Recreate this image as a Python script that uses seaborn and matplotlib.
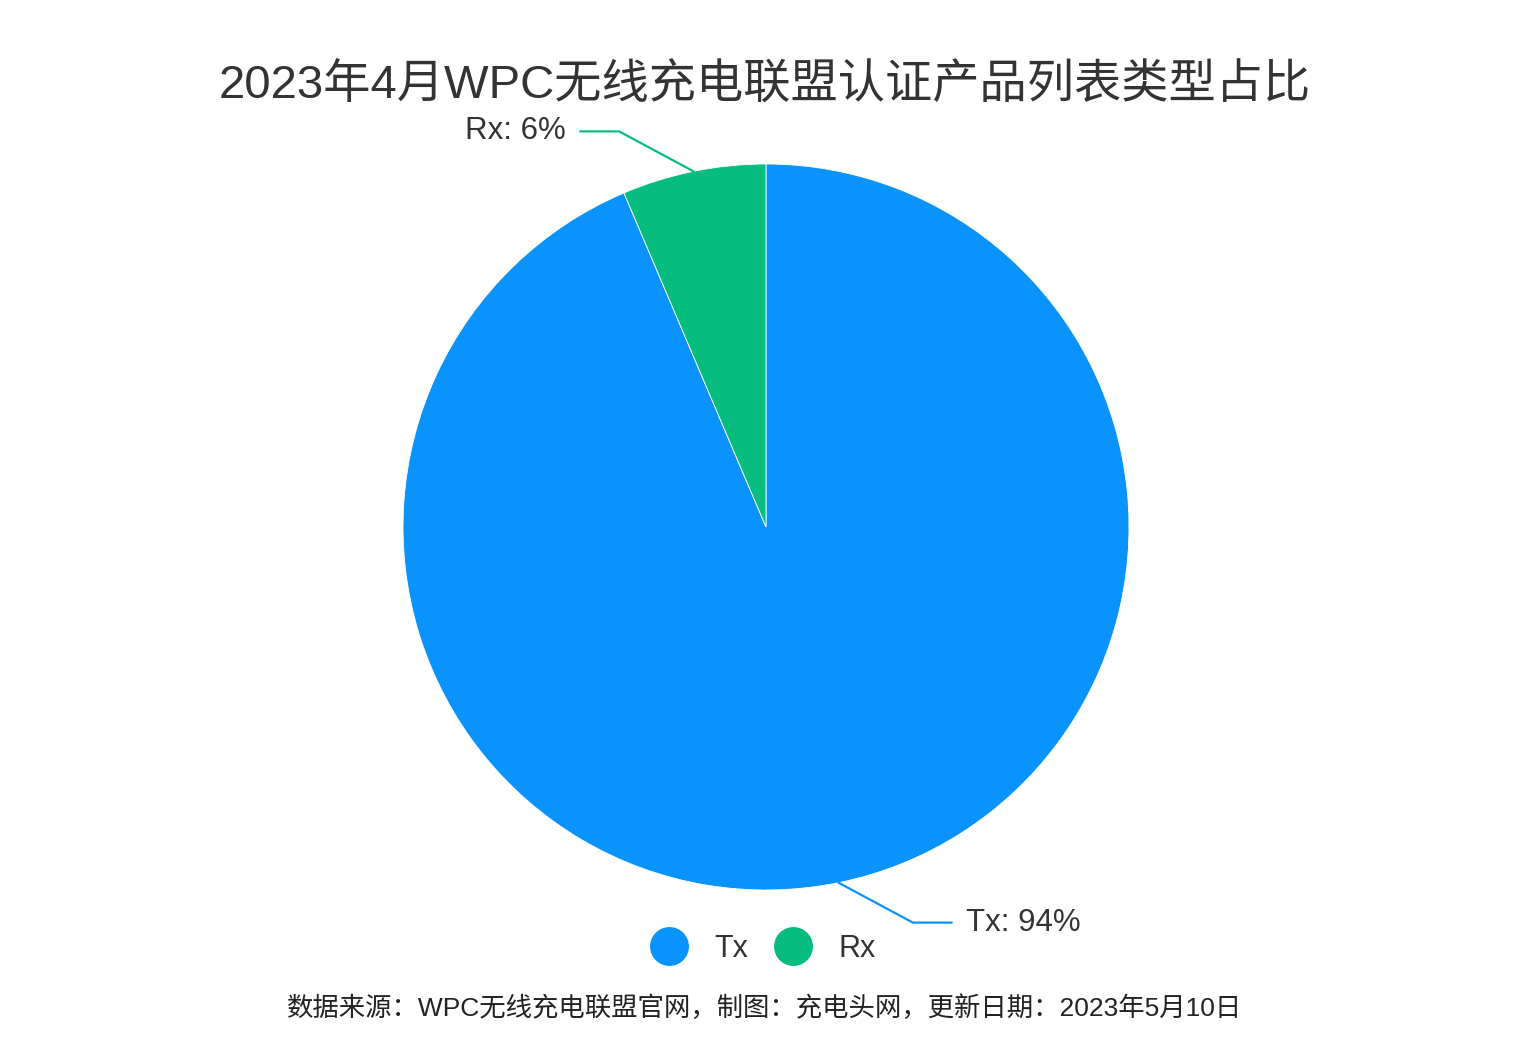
import numpy as np
import seaborn as sns
import matplotlib.pyplot as plt
from matplotlib.lines import Line2D

# data
categories = ["Tx", "Rx"]
shares = [93.6, 6.4]
label_pcts = ["94%", "6%"]
colors = ["#0a93fc", "#06bd7f"]

TITLE = "2023年4月WPC无线充电联盟认证产品列表类型占比"
FOOTER = "数据来源：WPC无线充电联盟官网，制图：充电头网，更新日期：2023年5月10日"

sns.set_theme(style="white")
plt.rcParams['font.family'] = ['Liberation Sans', 'Noto Sans CJK SC', 'DejaVu Sans']

fig = plt.figure(figsize=(15.3, 10.52), dpi=100)
W, H = 1530, 1052
cx, cy, r = 766, 527, 363
ax = fig.add_axes([(cx - r) / W, (H - cy - r) / H, 2 * r / W, 2 * r / H])

wedges, _ = ax.pie(shares, colors=colors, startangle=90, counterclock=False,
                   wedgeprops=dict(edgecolor="white", linewidth=0.6))
ax.set_xlim(-1, 1)
ax.set_ylim(-1, 1)
ax.set_aspect("equal")
ax.axis("off")

# leader lines + labels
for w, cat, pct, col in zip(wedges, categories, label_pcts, colors):
    mid = np.deg2rad((w.theta1 + w.theta2) / 2)
    x0, y0 = np.cos(mid), np.sin(mid)
    side = 1 if x0 > 0 else -1
    vside = 1 if y0 > 0 else -1
    x1, y1 = x0 + side * 0.205, y0 + vside * 0.11
    x2 = x1 + side * 0.107
    ax.plot([x0, x1, x2], [y0, y1, y1], color=col, lw=1.6, clip_on=False)
    ax.text(x2 + side * 0.04, y1, f"{cat}: {pct}", ha="left" if side > 0 else "right",
            va="center", fontsize=22.5, color="#333333")

fig.suptitle(TITLE, x=0.5, y=1 - 86 / H, va="center", fontsize=34, color="#333333")

handles = [Line2D([], [], marker="o", linestyle="", markersize=27,
                  markerfacecolor=c, markeredgecolor=c) for c in colors]
fig.legend(handles, categories, loc="center", bbox_to_anchor=((cx - 9) / W, 1 - 949 / H),
           ncol=2, frameon=False, fontsize=22, handletextpad=0.5, columnspacing=0.45,
           labelcolor="#333333")

fig.text(0.5, 1 - 1008 / H, FOOTER, ha="center", va="center", fontsize=19, color="#222222")

fig.savefig("out.png", dpi=100, facecolor="white")
